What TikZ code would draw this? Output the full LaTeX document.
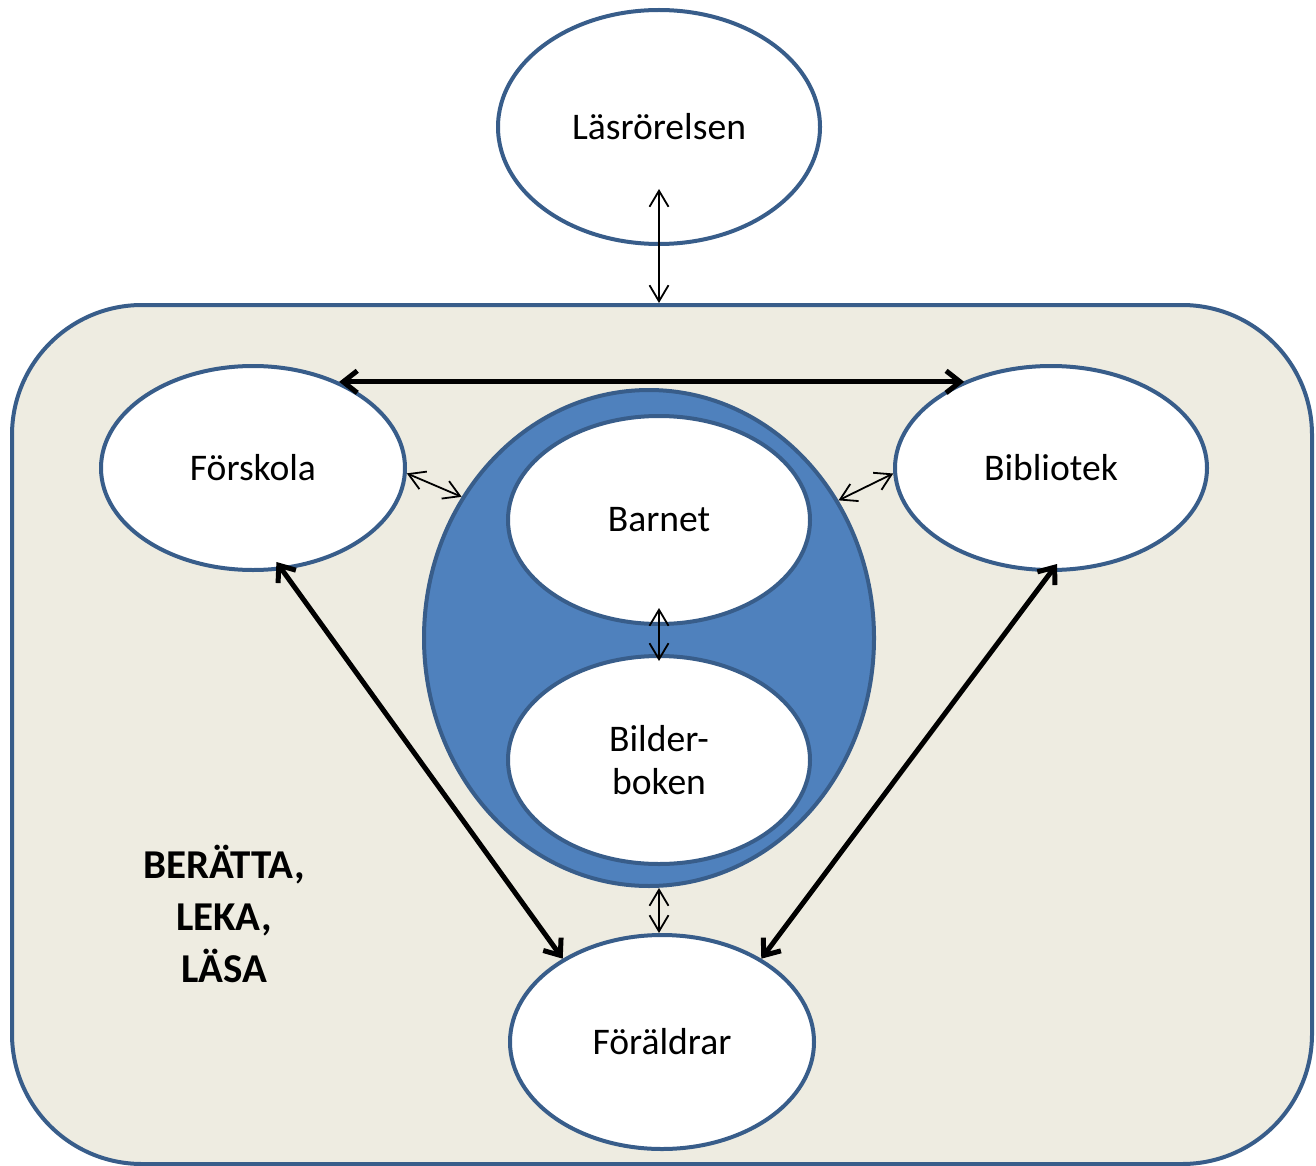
\documentclass[tikz,border=0pt]{standalone}
\usepackage{fontspec}
\setmainfont{Carlito}
\usepackage{xcolor}
\usetikzlibrary{arrows.meta}
\usetikzlibrary{shapes.geometric}
\usetikzlibrary{positioning}
\usetikzlibrary{calc}

\definecolor{ramfarg}{HTML}{EEECE1}
\definecolor{kantbla}{HTML}{385D8A}
\definecolor{fyllbla}{HTML}{4F81BD}

\tikzset{
	boll/.style={ellipse, draw=kantbla, line width=2pt, fill=white, inner sep=0pt,
		font=\fontsize{18.8pt}{21.5pt}\selectfont, align=center},
	tunnpil/.style={{Straight Barb[length=8pt,width=9.5pt]}-{Straight Barb[length=8pt,width=9.5pt]}, line width=0.9pt},
	tjockpil/.style={{Straight Barb[length=7pt,width=11pt]}-{Straight Barb[length=7pt,width=11pt]}, line width=2.5pt}
}

\begin{document}
\begin{tikzpicture}[x=0.5pt,y=-0.5pt]
					\useasboundingbox (0,0) rectangle (1316,1166);
					% Ram
					\node[draw=kantbla, fill=ramfarg, line width=2pt, rounded corners=65pt,
						minimum width=650pt, minimum height=429.5pt, inner sep=0pt] (ram) at (662,734.5) {};
					
					% Ellipser
					\node[boll, minimum width=161pt, minimum height=117pt] (lr) at (659,127) {Läsrörelsen};
					\node[ellipse, draw=kantbla, fill=fyllbla, line width=2pt,
						minimum width=225pt, minimum height=248pt] (mitt) at (649,638) {};
					\node[boll, minimum width=152pt, minimum height=102pt] (fs) at (253,468) {Förskola};
					\node[boll, minimum width=156pt, minimum height=102pt] (bib) at (1051,468) {Bibliotek};
					\node[boll, minimum width=151pt, minimum height=104pt] (barn) at (659,520) {Barnet};
					\node[boll, minimum width=151pt, minimum height=104pt] (bok) at (659,760) {Bilder-\\boken};
					\node[boll, minimum width=152pt, minimum height=107pt] (par) at (662,1042) {Föräldrar};
					
					% Text
					\node[align=center, font=\fontsize{20.5pt}{26pt}\selectfont\bfseries] (ord) at (224,914) {BERÄTTA,\\LEKA,\\LÄSA};
					
					% Pilar
					\draw[tunnpil, shorten <=-28.5pt] (lr.south) -- (lr.south |- ram.north);
					\draw[tjockpil] (fs.45) -- (fs.45 -| bib.135);
					\draw[tunnpil] (fs.-2) -- (mitt.143);
					\draw[tunnpil] (bib.182) -- (mitt.36);
					\draw[tunnpil, shorten <=-9pt, shorten >=-3.5pt] (barn.south) -- (bok.north);
					\draw[tunnpil] (mitt.south -| barn) -- (par.north -| barn);
					\draw[tjockpil, shorten <=-5pt] (fs.-74) -- (par.140);
					\draw[tjockpil, shorten <=-5pt] (bib.-90) -- (par.40);
				\end{tikzpicture}
\end{document}
